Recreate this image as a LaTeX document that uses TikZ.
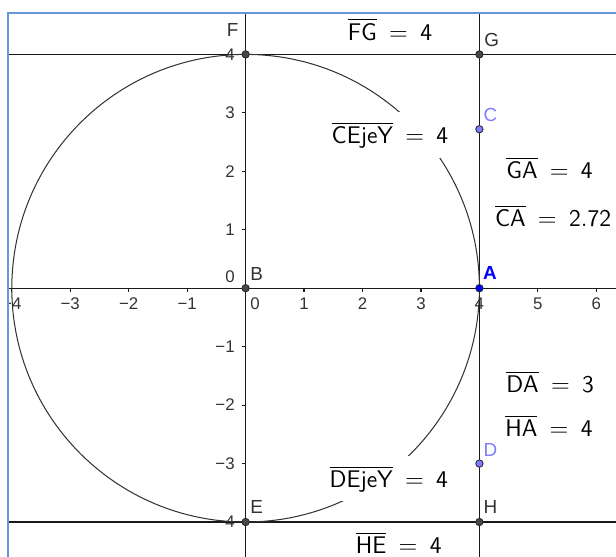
\documentclass[tikz,border=0pt]{standalone}
\usepackage{amsmath,amssymb}
\usepackage{fontspec}
\newfontfamily\ggfont{Liberation Sans}
\usetikzlibrary{calc}
\definecolor{ggframe}{RGB}{104,150,214}
\definecolor{ggpath}{RGB}{125,125,255}
\newcommand\ticklabel[1]{\ifnum#1<0 −\number-#1\relax\else#1\fi}
\newcommand\seglen[2]{$\overline{\mathsf{#1}} \:=\: \mathsf{#2}$}

\begin{document}
\begin{tikzpicture}[
  gline/.style={black!90,line width=0.55pt},
  pt/.style={circle,draw=black!85,fill=black!72,inner sep=0pt,minimum size=3.6pt},
  ptlabel/.style={inner sep=0pt,text=black!80,font=\ggfont\fontsize{9.2}{11}\selectfont},
  ticklab/.style={inner sep=0pt,text=black!80,font=\ggfont\fontsize{8.2}{10}\selectfont},
  measure/.style={fill=white,inner sep=4.5pt,font=\fontsize{11.7}{14}\selectfont}]
  \useasboundingbox (-4.202,-4.598) rectangle (6.337,4.931);
  \begin{scope}
    \clip (-4.065,-4.7) rectangle (6.4,4.708);
    % axes and ticks
    \draw[gline] (-4.3,0) -- (6.4,0);
    \draw[gline] (0,-4.7) -- (0,4.8);
    \foreach \x in {-4,...,-1,1,2,...,6} {
      \draw[gline] (\x,0) -- (\x,-0.06);
      \node[ticklab] (xt\x) at (\x,-0.27) {\ticklabel{\x}};
    }
    \foreach \y in {-4,...,-1,1,2,...,4} {
      \draw[gline] (0,\y) -- (-0.06,\y);
      \node[ticklab,anchor=east] (yt\y) at (-0.18,\y) {\ticklabel{\y}};
    }
    \node[ticklab,anchor=east] (yt0) at (-0.18,0.19) {0};
    \node[ticklab] (xt0) at (0.16,-0.27) {0};
    % lines and circle
    \draw[gline] (-4.3,4) -- (6.4,4);
    \draw[gline] (-4.3,-4) -- (6.4,-4);
    \draw[gline] (4,-4.7) -- (4,4.8);
    \draw[black!80,line width=0.5pt] (0,0) circle (4);
    % lengths
    \node[measure] (FGlen) at (2.47,4.43) {\seglen{FG}{4}};
    \node[measure] (CElen) at (2.47,2.62) {\seglen{CEjeY}{4}};
    \node[measure] (GAlen) at (5.20,2.06) {\seglen{GA}{4}};
    \node[measure] (CAlen) at (5.26,1.235) {\seglen{CA}{2.72}};
    \node[measure] (DAlen) at (5.21,-1.61) {\seglen{DA}{3}};
    \node[measure] (HAlen) at (5.19,-2.36) {\seglen{HA}{4}};
    \node[measure] (DElen) at (2.45,-3.26) {\seglen{DEjeY}{4}};
    \node[measure] (HElen) at (2.62,-4.36) {\seglen{HE}{4}};
    % points
    \node[pt] (B) at (0,0) {};
    \node[pt] (F) at (0,4) {};
    \node[pt] (G) at (4,4) {};
    \node[pt] (E) at (0,-4) {};
    \node[pt] (H) at (4,-4) {};
    \node[pt,fill=ggpath] (C) at (4,2.72) {};
    \node[pt,fill=ggpath] (D) at (4,-3) {};
    \node[pt,fill=blue] (A) at (4,0) {};
    \node[ptlabel] (Flab) at ([shift={(-0.22,0.42)}]F) {F};
    \node[ptlabel] (Glab) at ([shift={(0.21,0.25)}]G) {G};
    \node[ptlabel,text=ggpath] (Clab) at ([shift={(0.19,0.25)}]C) {C};
    \node[ptlabel,text=blue,font=\ggfont\bfseries\fontsize{9.2}{11}\selectfont] (Alab) at ([shift={(0.18,0.26)}]A) {A};
    \node[ptlabel] (Blab) at ([shift={(0.19,0.25)}]B) {B};
    \node[ptlabel,text=ggpath] (Dlab) at ([shift={(0.19,0.24)}]D) {D};
    \node[ptlabel] (Elab) at ([shift={(0.19,0.25)}]E) {E};
    \node[ptlabel] (Hlab) at ([shift={(0.19,0.25)}]H) {H};
  \end{scope}
  \draw[ggframe,line width=0.7pt] (-4.065,-4.7) |- (6.4,4.708);
\end{tikzpicture}
\end{document}
